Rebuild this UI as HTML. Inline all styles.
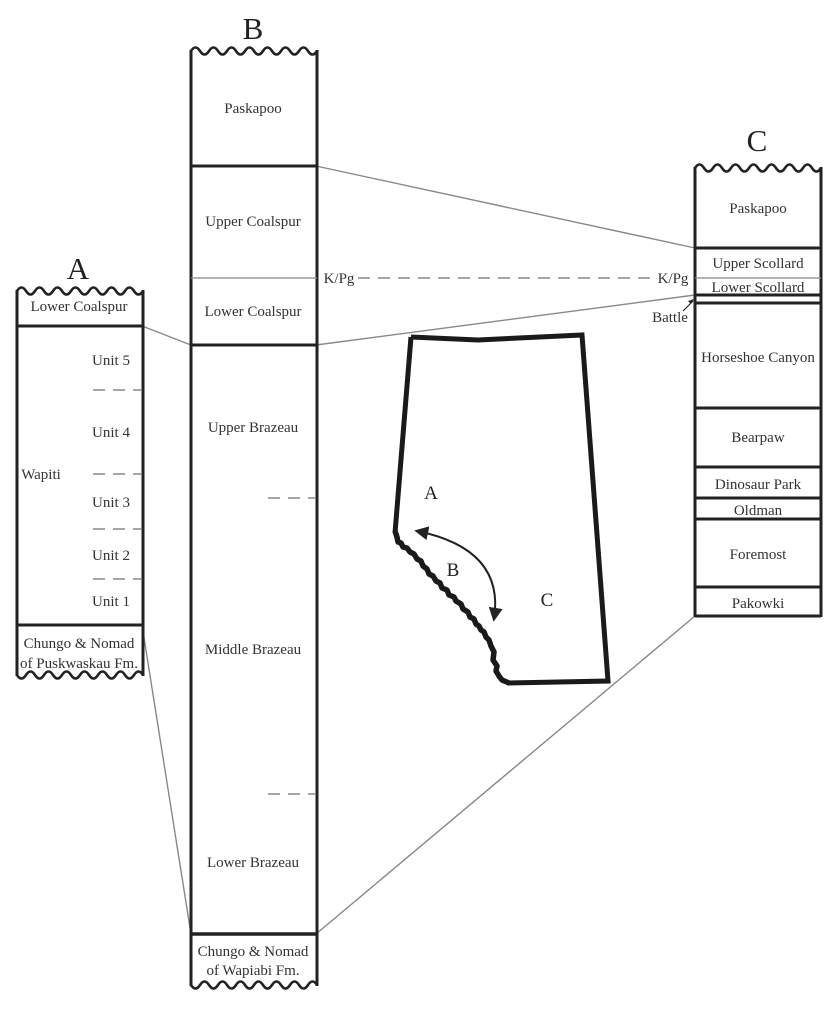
<!DOCTYPE html>
<html>
<head>
<meta charset="utf-8">
<style>
html,body{margin:0;padding:0;background:#fff;}
svg{display:block;}
text{font-family:"Liberation Serif","DejaVu Serif",serif;fill:#333;}
.lb{font-size:15px;text-anchor:middle;}
.big{font-size:31px;text-anchor:middle;fill:#222;}
.col{fill:none;stroke:#222;stroke-width:2.6;}
.thk{stroke:#222;stroke-width:3;}
.thn{stroke:#888;stroke-width:1.3;}
.con{stroke:#888;stroke-width:1.4;fill:none;}
.dsh{stroke:#888;stroke-width:1.5;stroke-dasharray:12,8;}
</style>
</head>
<body>
<svg width="840" height="1024" viewBox="0 0 840 1024" xmlns="http://www.w3.org/2000/svg">
<defs>
<marker id="ah" viewBox="0 0 10 10" refX="8" refY="5" markerWidth="7" markerHeight="7" orient="auto-start-reverse">
<path d="M0,0 L10,5 L0,10 z" fill="#222"/>
</marker>
</defs>

<!-- connectors -->
<line class="con" x1="142" y1="326" x2="191" y2="345"/>
<line class="con" x1="142" y1="625" x2="191" y2="934"/>
<line class="con" x1="316" y1="166" x2="695" y2="248"/>
<line class="con" x1="316" y1="345" x2="695" y2="295"/>
<line class="con" x1="316" y1="934" x2="695" y2="616"/>
<line class="dsh" x1="358" y1="278" x2="656" y2="278"/>

<!-- ===== Column A ===== -->
<text class="big" x="78" y="279">A</text>
<path class="col" d="M17,291 q4.5,-7 9,0 t9,0 t9,0 t9,0 t9,0 t9,0 t9,0 t9,0 t9,0 t9,0 t9,0 t9,0 t9,0 t9,0"/>
<path class="col" d="M17,675 q4.5,7 9,0 t9,0 t9,0 t9,0 t9,0 t9,0 t9,0 t9,0 t9,0 t9,0 t9,0 t9,0 t9,0 t9,0"/>
<line class="thk" x1="17" y1="290" x2="17" y2="676"/>
<line class="thk" x1="143" y1="290" x2="143" y2="676"/>
<line class="thk" x1="17" y1="326" x2="143" y2="326"/>
<line class="thk" x1="17" y1="625" x2="143" y2="625"/>
<line class="dsh" x1="93" y1="390" x2="142" y2="390"/>
<line class="dsh" x1="93" y1="474" x2="142" y2="474"/>
<line class="dsh" x1="93" y1="529" x2="142" y2="529"/>
<line class="dsh" x1="93" y1="579" x2="142" y2="579"/>
<text class="lb" x="79" y="311">Lower Coalspur</text>
<text class="lb" x="111" y="365">Unit 5</text>
<text class="lb" x="111" y="437">Unit 4</text>
<text class="lb" x="111" y="507">Unit 3</text>
<text class="lb" x="111" y="560">Unit 2</text>
<text class="lb" x="111" y="606">Unit 1</text>
<text class="lb" x="41" y="479">Wapiti</text>
<text class="lb" x="79" y="648">Chungo &amp; Nomad</text>
<text class="lb" x="79" y="668">of Puskwaskau Fm.</text>

<!-- ===== Column B ===== -->
<text class="big" x="253" y="39">B</text>
<path class="col" d="M191,51 q4.5,-7 9,0 t9,0 t9,0 t9,0 t9,0 t9,0 t9,0 t9,0 t9,0 t9,0 t9,0 t9,0 t9,0 t9,0"/>
<path class="col" d="M191,985 q4.5,7 9,0 t9,0 t9,0 t9,0 t9,0 t9,0 t9,0 t9,0 t9,0 t9,0 t9,0 t9,0 t9,0 t9,0"/>
<line class="thk" x1="191" y1="50" x2="191" y2="986"/>
<line class="thk" x1="317" y1="50" x2="317" y2="986"/>
<line class="thk" x1="191" y1="166" x2="317" y2="166"/>
<line class="thn" x1="191" y1="278" x2="317" y2="278"/>
<line class="thk" x1="191" y1="345" x2="317" y2="345"/>
<line class="thk" x1="191" y1="934" x2="317" y2="934" style="stroke-width:3.6"/>
<line class="dsh" x1="268" y1="498" x2="316" y2="498"/>
<line class="dsh" x1="268" y1="794" x2="316" y2="794"/>
<text class="lb" x="253" y="113">Paskapoo</text>
<text class="lb" x="253" y="226">Upper Coalspur</text>
<text class="lb" x="253" y="316">Lower Coalspur</text>
<text class="lb" x="253" y="432">Upper Brazeau</text>
<text class="lb" x="253" y="654">Middle Brazeau</text>
<text class="lb" x="253" y="867">Lower Brazeau</text>
<text class="lb" x="253" y="956">Chungo &amp; Nomad</text>
<text class="lb" x="253" y="975">of Wapiabi Fm.</text>
<text class="lb" x="339" y="283">K/Pg</text>

<!-- ===== Column C ===== -->
<text class="big" x="757" y="151">C</text>
<path class="col" d="M695,168 q4.5,-7 9,0 t9,0 t9,0 t9,0 t9,0 t9,0 t9,0 t9,0 t9,0 t9,0 t9,0 t9,0 t9,0 t9,0"/>
<line class="thk" x1="695" y1="167" x2="695" y2="617"/>
<line class="thk" x1="821" y1="167" x2="821" y2="617"/>
<line class="thk" x1="695" y1="248" x2="821" y2="248"/>
<line class="thn" x1="695" y1="278" x2="821" y2="278"/>
<line class="thk" x1="695" y1="295" x2="821" y2="295"/>
<line class="thk" x1="695" y1="303" x2="821" y2="303"/>
<line class="thk" x1="695" y1="408" x2="821" y2="408"/>
<line class="thk" x1="695" y1="467" x2="821" y2="467"/>
<line class="thk" x1="695" y1="498" x2="821" y2="498"/>
<line class="thk" x1="695" y1="519" x2="821" y2="519"/>
<line class="thk" x1="695" y1="587" x2="821" y2="587"/>
<line class="thk" x1="695" y1="616" x2="821" y2="616"/>
<text class="lb" x="758" y="213">Paskapoo</text>
<text class="lb" x="758" y="268">Upper Scollard</text>
<text class="lb" x="758" y="292">Lower Scollard</text>
<text class="lb" x="758" y="362">Horseshoe Canyon</text>
<text class="lb" x="758" y="442">Bearpaw</text>
<text class="lb" x="758" y="489">Dinosaur Park</text>
<text class="lb" x="758" y="515">Oldman</text>
<text class="lb" x="758" y="559">Foremost</text>
<text class="lb" x="758" y="608">Pakowki</text>
<text class="lb" x="673" y="283">K/Pg</text>
<text class="lb" x="670" y="322">Battle</text>
<line x1="683" y1="311" x2="693" y2="301" stroke="#222" stroke-width="1.2"/>
<path d="M694,299 L688,301 L691,304 z" fill="#222"/>

<!-- ===== Map ===== -->
<path d="M411,337 L478,340 L582,335 L608,681 L507,683" fill="none" stroke="#1a1a1a" stroke-width="5" stroke-linejoin="miter"/>
<path d="M395,533 L411,337" fill="none" stroke="#1a1a1a" stroke-width="5"/>
<path d="M509,683 L502,680 L499,676 L496,671 L497,666 L493,660 L494,652 L491,646 L489,640 L486,637 L484,632 L481,630 L479,626 L476,624 L474,619 L470,617 L468,612 L463,609 L461,604 L456,601 L454,597 L449,595 L447,590 L442,588 L440,583 L436,581 L433,576 L429,574 L427,569 L423,566 L421,561 L417,559 L414,554 L410,552 L407,548 L403,547 L401,543 L398,542 L397,537 L395,531" fill="none" stroke="#1a1a1a" stroke-width="5.5" stroke-linejoin="round"/>
<path d="M417,531 Q505,549 494,619" fill="none" stroke="#222" stroke-width="2" marker-start="url(#ah)" marker-end="url(#ah)"/>
<text x="431" y="499" style="font-size:19px;text-anchor:middle;fill:#222">A</text>
<text x="453" y="576" style="font-size:19px;text-anchor:middle;fill:#222">B</text>
<text x="547" y="606" style="font-size:19px;text-anchor:middle;fill:#222">C</text>
</svg>
</body>
</html>
